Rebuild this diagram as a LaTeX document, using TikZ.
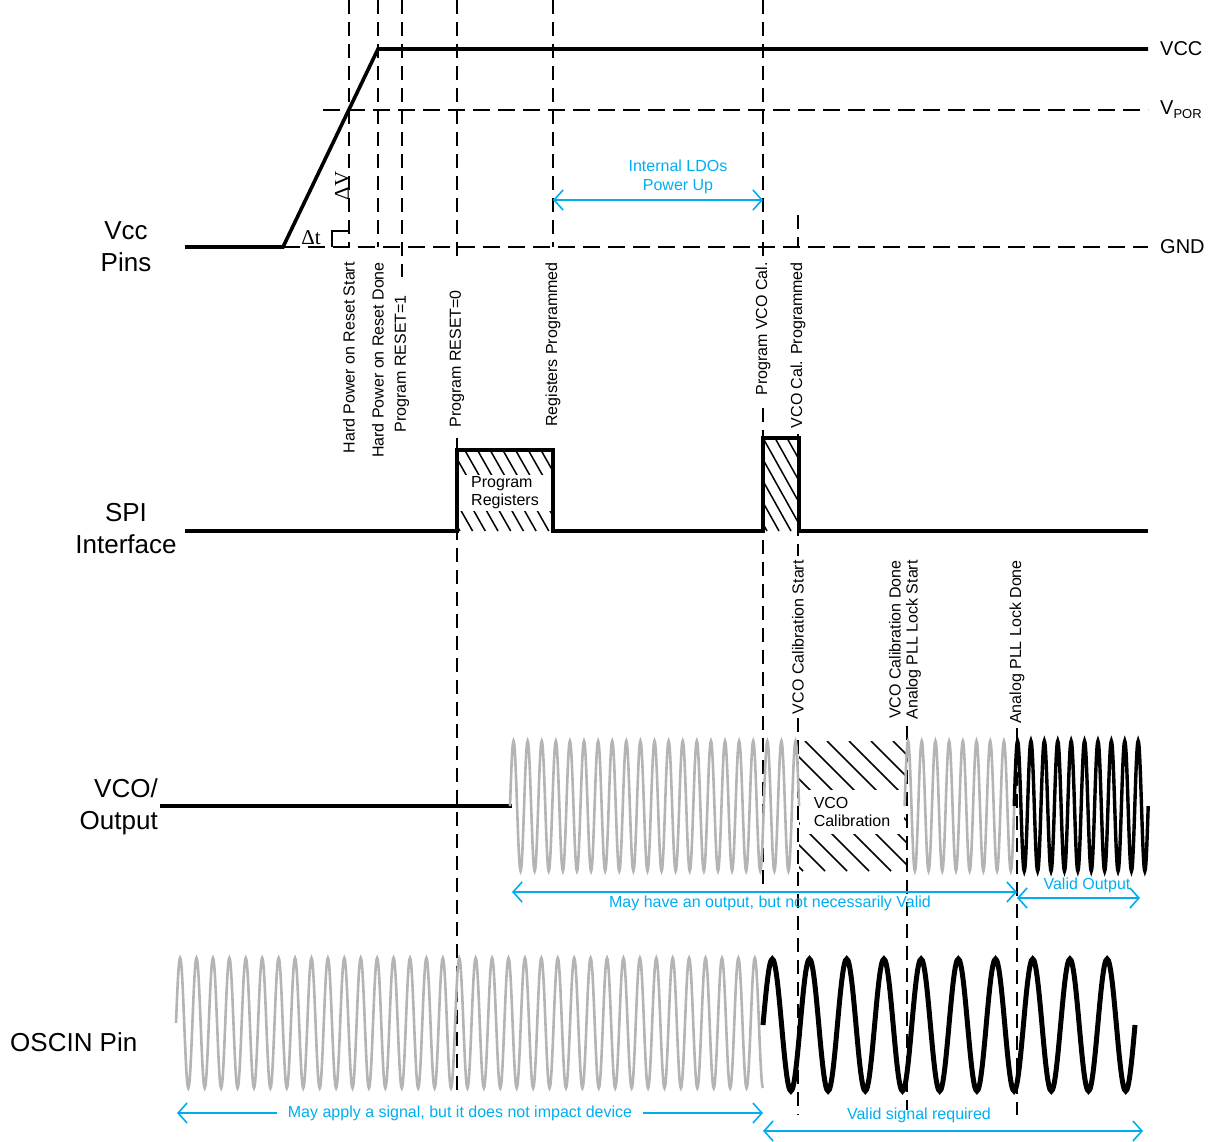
\documentclass[tikz,border=0pt]{standalone}
\usepackage{fontspec}
\setmainfont{Liberation Sans}
\newfontfamily\deltafont{Liberation Serif}
\usetikzlibrary{arrows.meta}
\definecolor{ldoblue}{RGB}{0,174,239}
\definecolor{wavegray}{RGB}{180,180,180}

\begin{document}
\begin{tikzpicture}[x=1pt, y=-1pt,
    sig/.style={line width=3.6pt},
    ref/.style={line width=1.8pt, dash pattern=on 14pt off 8pt},
    lvl/.style={line width=1.8pt, dash pattern=on 17pt off 8pt},
    evt/.style={rotate=90, anchor=east, inner sep=0pt, align=center, font=\fontsize{16}{17}\selectfont},
    pinlbl/.style={inner sep=0pt, align=center, font=\fontsize{26}{32}\selectfont},
    rail/.style={anchor=west, inner sep=0pt, font=\fontsize{20}{24}\selectfont},
    note/.style={inner sep=0pt, align=center, text=ldoblue, font=\fontsize{16}{19}\selectfont},
    span/.style={{Straight Barb[length=9pt,width=20pt]}-{Straight Barb[length=9pt,width=20pt]}, ldoblue, line width=1.6pt},
    half/.style={-{Straight Barb[length=9pt,width=20pt]}, ldoblue, line width=1.6pt},
    hatchln/.style={line width=1.5pt},
    boxtxt/.style={fill=white, inner sep=0pt, align=left, font=\fontsize{16}{18}\selectfont},
    delta/.style={inner sep=0pt, font=\deltafont\fontsize{21}{21}\selectfont},
    gwave/.style={wavegray, line width=2.6pt},
    bwave/.style={line width=3.4pt}
]
\useasboundingbox (0,0) rectangle (1213,1141);

\node[pinlbl] (vccpins) at (126,247) {Vcc\\Pins};
\node[pinlbl] (spipins) at (126,529) {SPI\\Interface};
\node[pinlbl, align=right, anchor=east] (vcopins) at (158,807) {VCO/\\Output};
\node[pinlbl, anchor=west] (oscpins) at (10,1042) {OSCIN Pin};

\node[rail] (vccr) at (1160,49) {VCC};
\node[rail] (porr) at (1160,110) {V\raisebox{-0.4ex}{\fontsize{13}{13}\selectfont POR}};
\node[rail] (gndr) at (1160,247) {GND};
\draw[lvl] (323,110) -- (1148,110);
\draw[lvl] (283,247) -- (1148,247);

\begin{scope}
\clip (457,450) rectangle (553,531);
\foreach \k in {-4,...,8} \draw[hatchln] ({452+12.7*\k},450) -- ++(46,81);
\end{scope}
\begin{scope}
\clip (763,438) rectangle (799,531);
\foreach \k in {-6,...,3} \draw[hatchln] ({763+12*\k},438) -- ++(52,93);
\end{scope}
\begin{scope}
\clip (799,741) rectangle (907,871);
\foreach \k in {-6,...,5} \draw[hatchln] ({805+22*\k},741) -- ++(130,130);
\end{scope}
\node[boxtxt, minimum width=96pt, minimum height=36pt] (progreg) at (505,493) {Program\\Registers};
\node[boxtxt, minimum width=104pt, minimum height=44pt] (vcocal) at (852,812) {VCO\\Calibration};

\draw[sig] (185,247) -- (283,247) -- (378,49) -- (1148,49);
\draw[sig] (185,531) -- (457,531) -- (457,450) -- (553,450) -- (553,531) -- (763,531)
    -- (763,438) -- (799,438) -- (799,531) -- (1148,531);
\draw[sig] (160,806) -- (512,806);

\node[delta, rotate=90] (dv) at (342,186) {ΔV};
\node[delta] (dt) at (311,238) {Δt};
\draw[line width=1.2pt] (332,247) -- (332,231) -- (348,231);

\coordinate (t1) at (349,0);
\coordinate (t2) at (378,0);
\coordinate (t3) at (402,0);
\coordinate (t4) at (457,0);
\coordinate (t5) at (553,0);
\coordinate (t6) at (763,0);
\coordinate (t7) at (798,215);
\coordinate (b4) at (457,1092);
\coordinate (b6) at (763,890);
\coordinate (b8) at (798,1115);
\coordinate (b9) at (907,1110);
\coordinate (b10) at (1017,1115);

\node[evt] (e1) at (349,262) {Hard Power on Reset Start};
\node[evt] (e2) at (378,262) {Hard Power on Reset Done};
\node[evt] (e3) at (402,295) {Program RESET=1};
\node[evt] (e4) at (457,290) {Program RESET=0};
\node[evt] (e5) at (553,262) {Registers Programmed};
\node[evt] (e6) at (763,262) {Program VCO Cal.};
\node[evt] (e7) at (798,262) {VCO Cal. Programmed};
\node[evt] (e8) at (798,560) {VCO Calibration Start};
\node[evt] (e9) at (905,560) {VCO Calibration Done\\Analog PLL Lock Start};
\node[evt] (e10) at (1017,560) {Analog PLL Lock Done};

\draw[ref, shorten >=15pt] (t1) -- (e1.east);
\draw[ref, shorten >=15pt] (t2) -- (e2.east);
\draw[ref, shorten >=18pt] (t3) -- (e3.east);
\draw[ref, shorten >=30pt] (t4) -- (e4.east);
\draw[ref, shorten <=10pt] (e4.west) -- (b4);
\draw[ref, shorten >=15pt] (t5) -- (e5.east);
\draw[ref, shorten >=5pt] (t6) -- (e6.east);
\draw[ref, shorten <=12pt] (e6.west) -- (b6);
\draw[ref, shorten >=15pt] (t7) -- (e7.east);
\draw[ref, shorten <=6pt, shorten >=4pt] (e7.west) -- (e8.east);
\draw[ref, shorten <=4pt] (e8.west) -- (b8);
\draw[ref, shorten <=6pt] (e9.west -| b9) -- (b9);
\draw[ref, shorten <=4pt] (e10.west) -- (b10);

\draw[gwave] (510,806) \foreach \i in {1,...,20} {sin ++(3.525,-65) cos ++(3.525,65) sin ++(3.525,65) cos ++(3.525,-65)}
    sin ++(3.525,-65) cos ++(3.525,65);
\draw[gwave] (904.6,806) \foreach \i in {1,...,8} {sin ++(3.425,-65) cos ++(3.425,65) sin ++(3.425,65) cos ++(3.425,-65)};
\draw[bwave] (1014.2,806) \foreach \i in {1,...,10} {sin ++(3.35,-65) cos ++(3.35,65) sin ++(3.35,65) cos ++(3.35,-65)};
\draw[gwave] (176,1023) \foreach \i in {1,...,35} {sin ++(4.105,-65) cos ++(4.105,65) sin ++(4.105,65) cos ++(4.105,-65)}
    sin ++(4.105,-65) cos ++(4.105,65) sin ++(4.105,65);
\draw[bwave, line width=5pt] (763,1025) \foreach \i in {1,...,10} {sin ++(9.3,-66) cos ++(9.3,66) sin ++(9.3,66) cos ++(9.3,-66)};

\coordinate (ldoL) at (553,200);
\coordinate (ldoR) at (763,200);
\draw[span] (ldoL) -- (ldoR);
\node[note] (ldo) at (678,177) {Internal LDOs\\Power Up};

\coordinate (maybeL) at (512,892);
\coordinate (maybeR) at (1017,892);
\draw[span] (maybeL) -- (maybeR);
\node[note] (maybe) at (770,903) {May have an output, but not necessarily Valid};

\coordinate (validL) at (1017,898);
\coordinate (validR) at (1140,898);
\draw[span] (validL) -- (validR);
\node[note] (valid) at (1087,885) {Valid Output};

\coordinate (applyL) at (177,1113);
\coordinate (applyR) at (763,1113);
\node[note] (apply) at (460,1113) {May apply a signal, but it does not impact device};
\draw[half, shorten <=11pt] (apply.west) -- (applyL);
\draw[half, shorten <=11pt] (apply.east) -- (applyR);

\coordinate (reqL) at (763,1131);
\coordinate (reqR) at (1143,1131);
\draw[span] (reqL) -- (reqR);
\node[note] (req) at (919,1115) {Valid signal required};
\end{tikzpicture}
\end{document}
